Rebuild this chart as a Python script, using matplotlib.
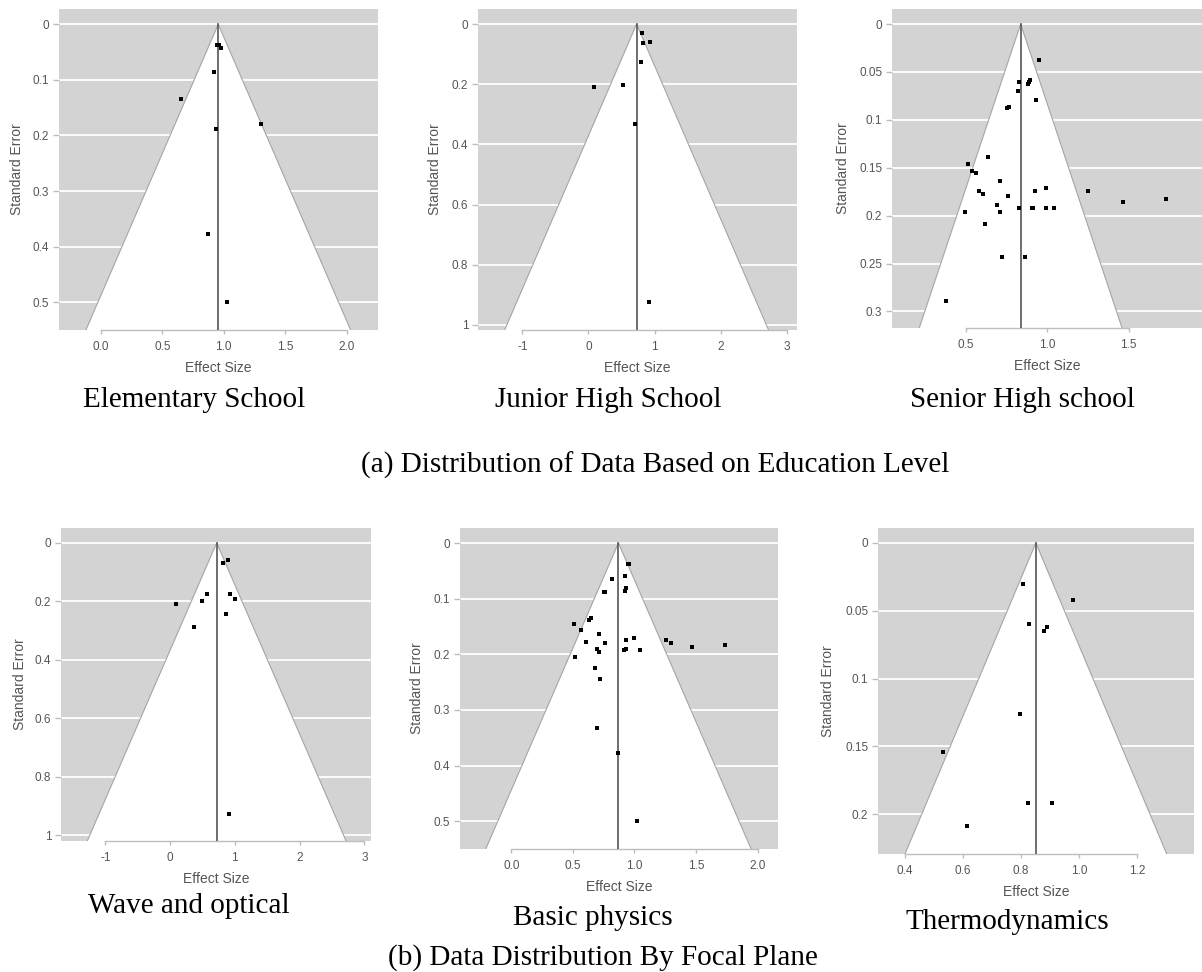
import matplotlib
matplotlib.use("Agg")
import matplotlib.pyplot as plt

W, H = 1202, 972

# ---------------- data ----------------
elem_es = [0.944, 0.958, 0.980, 0.923, 0.649, 1.300, 0.933, 0.871, 1.023]
elem_se = [0.038, 0.038, 0.042, 0.086, 0.134, 0.180, 0.189, 0.378, 0.500]
elem_center = 0.955

junior_es = [0.813, 0.923, 0.818, 0.798, 0.083, 0.515, 0.697, 0.908]
junior_se = [0.031, 0.060, 0.064, 0.126, 0.210, 0.204, 0.333, 0.925]
junior_center = 0.727

senior_es = [0.949, 0.828, 0.893, 0.889, 0.881, 0.819, 0.930, 0.764, 0.756, 0.635,
             0.512, 0.539, 0.567, 0.711, 0.580, 0.606, 0.760, 0.926, 0.992, 0.694,
             0.496, 0.711, 0.828, 0.905, 0.914, 0.994, 1.043, 0.621, 0.725, 0.867,
             0.381, 1.250, 1.463, 1.729]
senior_se = [0.038, 0.060, 0.058, 0.061, 0.063, 0.070, 0.079, 0.087, 0.088, 0.139,
             0.146, 0.153, 0.156, 0.164, 0.174, 0.177, 0.180, 0.174, 0.171, 0.189,
             0.196, 0.196, 0.192, 0.192, 0.192, 0.192, 0.192, 0.209, 0.243, 0.243,
             0.289, 0.174, 0.186, 0.183]
senior_center = 0.838

wave_es = [0.895, 0.823, 0.575, 0.926, 0.489, 0.998, 0.087, 0.864, 0.375, 0.915]
wave_se = [0.058, 0.070, 0.174, 0.174, 0.197, 0.192, 0.209, 0.243, 0.289, 0.927]
wave_center = 0.720

basic_es = [0.946, 0.957, 0.816, 0.922, 0.935, 0.922, 0.754, 0.762, 0.645, 0.632,
            0.507, 0.564, 0.713, 0.605, 0.759, 0.930, 0.998, 0.694, 0.710, 0.916,
            0.930, 1.044, 0.515, 0.678, 0.724, 1.255, 1.296, 1.471, 1.737, 0.694,
            0.865, 1.020]
basic_se = [0.038, 0.038, 0.065, 0.060, 0.080, 0.086, 0.088, 0.088, 0.134, 0.138,
            0.146, 0.156, 0.164, 0.178, 0.180, 0.175, 0.171, 0.190, 0.196, 0.192,
            0.190, 0.193, 0.204, 0.224, 0.244, 0.175, 0.180, 0.187, 0.184, 0.333,
            0.378, 0.500]
basic_center = 0.870

thermo_es = [0.808, 0.977, 0.828, 0.890, 0.878, 0.797, 0.532, 0.825, 0.906, 0.615]
thermo_se = [0.030, 0.042, 0.060, 0.062, 0.065, 0.126, 0.154, 0.192, 0.192, 0.209]
thermo_center = 0.851

captions = ["Elementary School", "Junior High School", "Senior High school",
            "Wave and optical", "Basic physics", "Thermodynamics"]
group_titles = ["(a) Distribution of Data Based on Education Level",
                "(b) Data Distribution By Focal Plane"]

x_ticks_a = [0.0, 0.5, 1.0, 1.5, 2.0]
x_labels_a = ["0.0", "0.5", "1.0", "1.5", "2.0"]
y_ticks_a = [0, 0.1, 0.2, 0.3, 0.4, 0.5]
y_labels_a = ["0", "0.1", "0.2", "0.3", "0.4", "0.5"]
x_ticks_b = [-1, 0, 1, 2, 3]
x_labels_b = ["-1", "0", "1", "2", "3"]
y_ticks_b = [0, 0.2, 0.4, 0.6, 0.8, 1.0]
y_labels_b = ["0", "0.2", "0.4", "0.6", "0.8", "1"]
x_ticks_c = [0.5, 1.0, 1.5]
x_labels_c = ["0.5", "1.0", "1.5"]
y_ticks_c = [0, 0.05, 0.1, 0.15, 0.2, 0.25, 0.3]
y_labels_c = ["0", "0.05", "0.1", "0.15", "0.2", "0.25", "0.3"]
x_ticks_d = [0.4, 0.6, 0.8, 1.0, 1.2]
x_labels_d = ["0.4", "0.6", "0.8", "1.0", "1.2"]
y_ticks_d = [0, 0.05, 0.1, 0.15, 0.2]
y_labels_d = ["0", "0.05", "0.1", "0.15", "0.2"]

# ---------------- styling ----------------
SANS = ["Liberation Sans", "DejaVu Sans"]
SERIF = ["Liberation Serif", "DejaVu Serif"]
BG = "#d3d3d3"
TXT = "#555555"
AXC = "#bdbdbd"

fig = plt.figure(figsize=(W / 100, H / 100), dpi=100)
fig.patch.set_facecolor("white")


def px_axes(l, t, r, b):
    return fig.add_axes([l / W, 1 - b / H, (r - l) / W, (b - t) / H])


panels = [
    # es, se, center, xlim, ylim, xt, xl, yt, yl, box(l,t,r,b), ylabel offset px
    (elem_es, elem_se, elem_center, (-0.342, 2.256), (0.55, -0.0275),
     x_ticks_a, x_labels_a, y_ticks_a, y_labels_a, (59, 9, 378, 330), 42),
    (junior_es, junior_se, junior_center, (-1.669, 3.15), (1.017, -0.05),
     x_ticks_b, x_labels_b, y_ticks_b, y_labels_b, (478, 9, 797, 330), 43),
    (senior_es, senior_se, senior_center, (0.049, 1.95), (0.3173, -0.0157),
     x_ticks_c, x_labels_c, y_ticks_c, y_labels_c, (892, 9, 1202, 328), 49),
    (wave_es, wave_se, wave_center, (-1.684, 3.103), (1.0196, -0.051),
     x_ticks_b, x_labels_b, y_ticks_b, y_labels_b, (61, 528, 371, 841), 41),
    (basic_es, basic_se, basic_center, (-0.417, 2.166), (0.55, -0.027),
     x_ticks_a, x_labels_a, y_ticks_a, y_labels_a, (460, 528, 778, 849), 43),
    (thermo_es, thermo_se, thermo_center, (0.309, 1.394), (0.2293, -0.011),
     x_ticks_d, x_labels_d, y_ticks_d, y_labels_d, (878, 528, 1194, 854), 50),
]

for (es, se, c, xlim, ylim, xt, xl, yt, yl, box, yoff) in panels:
    ax = px_axes(*box)
    wpx = box[2] - box[0]
    hpx = box[3] - box[1]
    ax.set_facecolor(BG)
    ax.set_xlim(*xlim)
    ax.set_ylim(*ylim)
    for v in yt:
        ax.axhline(v, color="white", lw=1.3, zorder=1)
    ymax = ylim[0] * 1.2
    ax.fill([c, c - 1.96 * ymax, c + 1.96 * ymax], [0, ymax, ymax],
            facecolor="white", edgecolor="#a5a5a5", lw=0.8, zorder=2)
    ax.plot([c, c], [0, ymax], color="#555555", lw=1.2, zorder=3)
    ax.plot(es, se, "s", color="black", ms=2.3, mew=0, zorder=4)

    for s in ["top", "right", "left"]:
        ax.spines[s].set_visible(False)
    ax.spines["bottom"].set_color(AXC)
    ax.spines["bottom"].set_linewidth(1.0)
    ax.spines["bottom"].set_bounds(xt[0], xt[-1])
    ax.set_xticks(xt)
    ax.set_xticklabels(xl)
    ax.set_yticks(yt)
    ax.set_yticklabels(yl)
    ax.tick_params(axis="x", colors=AXC, length=3, width=1, pad=5, labelsize=8.5,
                   labelcolor=TXT)
    ax.tick_params(axis="y", colors=AXC, length=4, width=1, pad=3, labelsize=8.5,
                   labelcolor=TXT)
    for lab in ax.get_xticklabels() + ax.get_yticklabels():
        lab.set_fontfamily(SANS)
    ax.set_xlabel("Effect Size", fontsize=10, color=TXT, family=SANS)
    ax.set_ylabel("Standard Error", fontsize=10, color=TXT, family=SANS)
    ax.xaxis.set_label_coords(0.5, -38 / hpx)
    ax.yaxis.set_label_coords(-yoff / wpx, 0.5)
    ax.xaxis.label.set_va("center")
    ax.yaxis.label.set_va("center")


def ftext(x, y, s):
    fig.text(x / W, 1 - y / H, s, ha="center", va="baseline", fontsize=21,
             family=SERIF, color="black")


cap_pos = [(194, 407), (608, 407), (1022, 407), (189, 913), (593, 925), (1007, 929)]
for (x, y), s in zip(cap_pos, captions):
    ftext(x, y, s)
ftext(655, 473, group_titles[0])
ftext(603, 965, group_titles[1])

fig.savefig("out.png", dpi=100, facecolor="white")
